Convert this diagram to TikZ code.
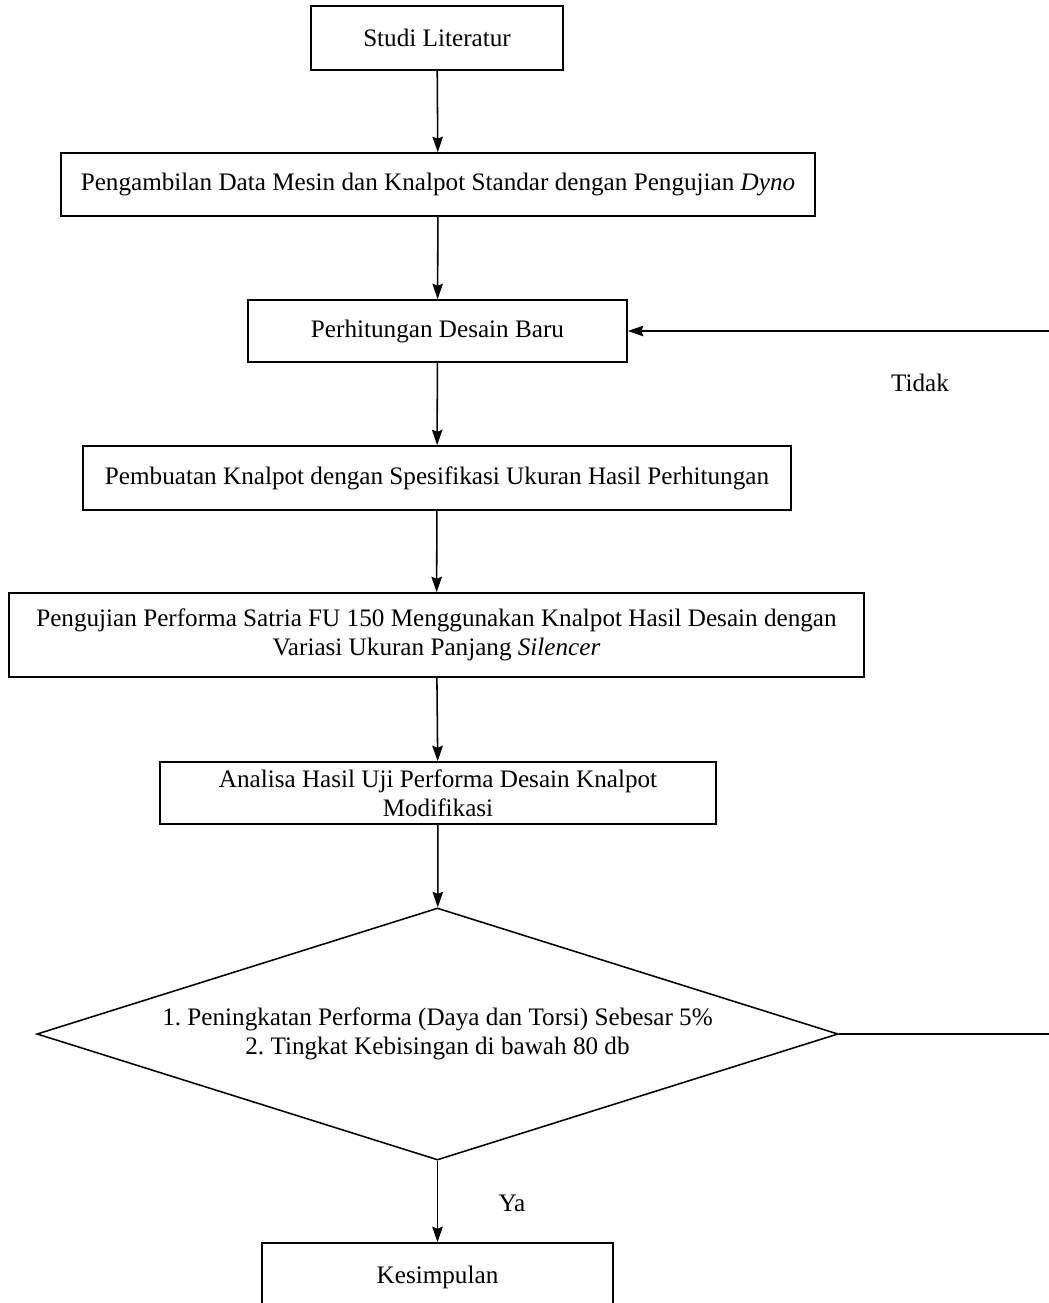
\documentclass[tikz,border=0pt]{standalone}
\usepackage{fontspec}
\setmainfont{Liberation Serif}
\usetikzlibrary{shapes.geometric,arrows.meta}
\frenchspacing

\tikzset{
  kotak/.style={draw,line width=1.2pt,align=center,inner sep=0pt},
  syarat/.style={draw,diamond,shape aspect=3.18,line width=1.1pt,align=center,inner sep=0pt},
  panah/.style={line width=1.1pt,-{Stealth[length=11pt,width=7.5pt,inset=1.5pt]}},
}

\begin{document}
\begin{tikzpicture}[x=0.025cm,y=-0.025cm,font=\fontsize{17.9}{20.5}\selectfont]
  \useasboundingbox (0,0) rectangle (1049,1303);
  \clip (0,0) rectangle (1049,1303);
  \node[kotak,minimum width=6.3cm,minimum height=1.6cm] (studi) at (437,38) {Studi Literatur};
  \node[kotak,minimum width=18.85cm,minimum height=1.575cm] (ambil) at (438,184.5)
    {Pengambilan Data Mesin dan Knalpot Standar dengan Pengujian \textit{Dyno}};
  \node[kotak,minimum width=9.475cm,minimum height=1.55cm] (hitung) at (437.5,331) {Perhitungan Desain Baru};
  \node[kotak,minimum width=17.7cm,minimum height=1.6cm] (buat) at (437,478)
    {Pembuatan Knalpot dengan Spesifikasi Ukuran Hasil Perhitungan};
  \node[kotak,minimum width=21.375cm,minimum height=2.1cm] (uji) at (436.5,635)
    {Pengujian Performa Satria FU 150 Menggunakan Knalpot Hasil Desain dengan\\
     Variasi Ukuran Panjang \textit{Silencer}};
  \node[kotak,minimum width=13.9cm,minimum height=1.55cm] (analisa) at (438,793)
    {Analisa Hasil Uji Performa Desain Knalpot\\Modifikasi};
  \node[syarat,minimum width=20.025cm,minimum height=6.3cm] (cek) at (437.5,1034)
    {1. Peningkatan Performa (Daya dan Torsi) Sebesar 5\%\\2. Tingkat Kebisingan di bawah 80 db};
  \node[kotak,minimum width=8.775cm,minimum height=1.7cm] (simpul) at (437.5,1277) {Kesimpulan};

  \draw[panah] (studi) -- (ambil);
  \draw[panah] (ambil) -- (hitung);
  \draw[panah] (hitung) -- (buat);
  \draw[panah] (buat) -- (uji);
  \draw[panah] (uji) -- (analisa);
  \draw[panah] (analisa) -- (cek);
  \draw[panah] (cek) -- (simpul);

  \coordinate (kananbawah) at (1075,1034);
  \coordinate (kananatas) at (1075,331);
  \draw[panah] (cek.east) -- (kananbawah) -- (kananatas) -- (hitung.east);

  \node (tidak) at (920,383) {Tidak};
  \node (ya) at (512,1203) {Ya};
\end{tikzpicture}
\end{document}
